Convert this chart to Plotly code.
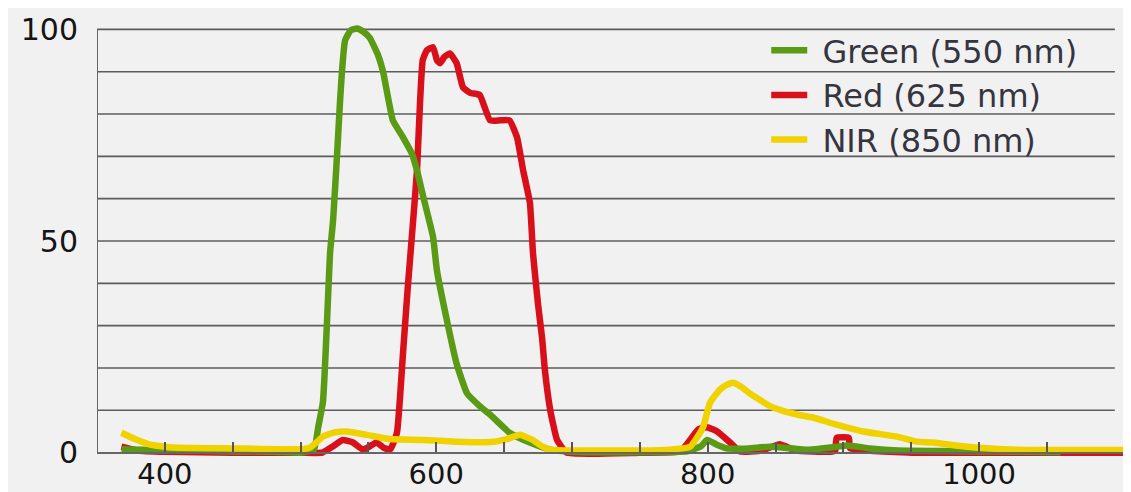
import plotly.graph_objects as go

# ---------------- data ----------------
green_nm = [368, 390, 420, 450, 480, 500, 505, 510, 513, 516.5, 519.5, 521.7, 524, 527, 529, 530.5,
            532.8, 537, 541.6, 546, 551, 557, 560.8, 564.4, 568, 575.5, 582, 585.8, 590, 597.6,
            600.5, 608, 615, 622.7, 632, 639.6, 654, 669, 684, 700, 750, 785, 795, 799.5, 806,
            814, 830, 846, 875, 890, 902.6, 919.6, 940, 970, 1000, 1030, 1060]
green_val = [0.8, 0.6, 0.5, 0.3, 0.2, 0.0, 0.3, 0.8, 6, 12, 31, 47, 55, 71, 82.5, 90,
             97.4, 99.8, 100.2, 99.5, 98, 94, 90, 84, 78.5, 74.5, 70.7, 66.7, 61, 51,
             43, 31, 21, 14, 11, 9, 4.7, 2.4, 0.7, 0.2, 0.1, 0.3, 1.5, 3, 2,
             1.0, 1.0, 1.4, 0.7, 1.2, 1.7, 1.0, 0.5, 0.4, 0.3, 0.2, 0.1]

red_nm = [368, 380, 400, 450, 500, 516, 524, 531, 538.6, 546, 551, 556, 561, 566, 571, 575.5,
          579, 583, 585.8, 588, 590, 593, 597.6, 600.5, 602.8, 606, 610, 615, 619.7, 625,
          632, 639.6, 647, 654, 659.5, 664, 669, 671.3, 675, 678, 680, 684, 689, 696, 750,
          780, 787, 793, 799.5, 807, 816.5, 823.8, 840, 853, 865, 890, 894, 895, 904, 905,
          950, 1000, 1050, 1107]
red_val = [1.4, 0.5, 0.2, 0.0, 0.0, 0.0, 1.5, 3, 2.4, 0.7, 1.5, 2.4, 1.2, 0.7, 4.7, 23.6,
           39, 55, 66.7, 82.5, 92.7, 95, 95.8, 92.7, 92, 93.5, 94.3, 92, 86.3, 85,
           84.5, 78.5, 78.5, 78.5, 74.5, 66.7, 59, 47, 35, 27, 19.6, 10, 3, 0, 0,
           0.3, 3, 5.5, 6, 5, 2.4, 0.3, 0.5, 2, 0.5, 0.2, 0.5, 3.5, 3.5, 1.0,
           0, 0, 0, 0]

nir_nm = [368, 378, 389, 406, 450, 500, 507, 512, 516.5, 525, 534, 549, 566, 590, 615, 640,
          652, 661.7, 671, 678, 684, 700, 750, 772, 787, 792, 796.6, 801.7, 809, 814, 818.7,
          825, 831, 846, 856, 866, 877.6, 895, 914.5, 939.5, 954, 966, 991, 1028, 1060, 1107]
nir_val = [4.7, 3.2, 1.9, 1.2, 1.0, 0.8, 1.2, 2.5, 3.8, 4.8, 5, 4.2, 3.2, 3, 2.6, 2.5,
           3.2, 4.2, 3, 1.5, 0.7, 0.5, 0.5, 0.7, 1.4, 3.5, 6, 11.8, 14.9, 16, 16.5,
           15.5, 14, 11, 9.8, 9, 8.3, 6.6, 5, 3.8, 2.6, 2.4, 1.4, 0.7, 0.6, 0.6]

series_names = ["Green (550 nm)", "Red (625 nm)", "NIR (850 nm)"]
series_colors = ["#5a9a14", "#d7101a", "#f0d200"]

x_tickvals = [400, 450, 500, 550, 600, 650, 700, 750, 800, 850, 900, 950, 1000, 1050]
x_ticktext = ["400", "", "", "", "600", "", "", "", "800", "", "", "", "1000", ""]
y_tickvals = [0, 50, 100]
y_ticktext = ["0", "50", "100"]
grid_levels = [10, 20, 30, 40, 50, 60, 70, 80, 90, 100]

X_MIN, X_MAX, GRID_END = 350, 1107.5, 1100
Y_MIN, Y_MAX = -1.5, 101.5

# ---------------- figure ----------------
fig = go.Figure()

# draw order: red below green, yellow on top; legend order via legendrank
order = [(1, red_nm, red_val), (0, green_nm, green_val), (2, nir_nm, nir_val)]
for idx, xs, ys in order:
    fig.add_trace(go.Scatter(
        x=xs, y=ys, mode="lines", name="\u00a0" + series_names[idx],
        line=dict(color=series_colors[idx], width=6.5, shape="spline", smoothing=0.4),
        legendrank=idx + 1, legendgroup=str(idx),
        hoverinfo="skip",
    ))

shapes = []
for lv in grid_levels:
    shapes.append(dict(type="line", xref="x", yref="y", x0=X_MIN, x1=GRID_END, y0=lv, y1=lv,
                       line=dict(color="#5c5c5c", width=1.6), layer="below"))
# left axis line
shapes.append(dict(type="line", xref="x", yref="y", x0=X_MIN, x1=X_MIN, y0=0, y1=100,
                   line=dict(color="#666666", width=2), layer="below"))

# the page body keeps an 8px margin, which gives the white strip on top and left
fig.update_layout(
    width=1123, height=484,
    margin=dict(l=89, r=6, t=15, b=33, autoexpand=False),
    paper_bgcolor="#f1f1f1",
    plot_bgcolor="#f1f1f1",
    font=dict(family="DejaVu Sans", size=30, color="#151515"),
    showlegend=True,
    legend=dict(
        x=0.651, y=1.0, xanchor="left", yanchor="top",
        bgcolor="rgba(0,0,0,0)", borderwidth=0,
        font=dict(family="DejaVu Sans", size=32, color="#353540"),
        traceorder="grouped", tracegroupgap=0, itemwidth=36,
    ),
    shapes=shapes,
    xaxis=dict(
        range=[X_MIN, X_MAX], showgrid=False, zeroline=False, automargin=False,
        anchor="free", position=(0 - Y_MIN) / (Y_MAX - Y_MIN),
        showline=True, linecolor="#666666", linewidth=2,
        tickmode="array", tickvals=x_tickvals, ticktext=x_ticktext,
        ticks="inside", ticklen=10, tickwidth=1.5, tickcolor="#555555",
        ticklabelstandoff=-4,
        tickfont=dict(family="DejaVu Sans", size=29, color="#151515"),
    ),
    yaxis=dict(
        range=[Y_MIN, Y_MAX], showgrid=False, zeroline=False, showline=False,
        automargin=False,
        tickmode="array", tickvals=y_tickvals, ticktext=y_ticktext,
        ticks="", ticklabelstandoff=18,
        tickfont=dict(family="DejaVu Sans", size=30, color="#151515"),
    ),
)

fig.write_html("out.html")
